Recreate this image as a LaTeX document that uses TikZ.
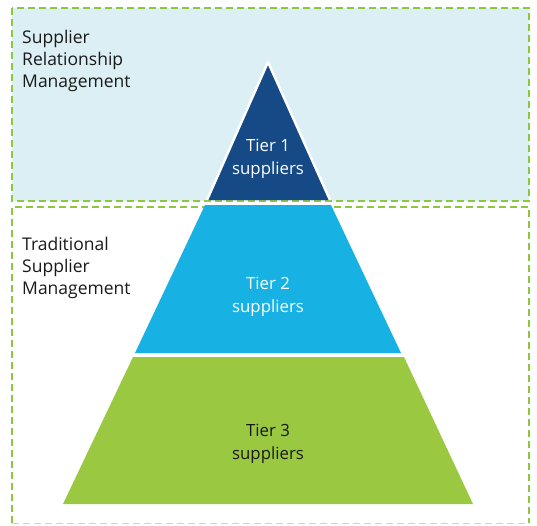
\documentclass[tikz,border=0pt]{standalone}
\usepackage{fontspec}
\setmainfont{Open Sans}
\definecolor{boxfill}{HTML}{DCEFF4}
\definecolor{dashgreen}{HTML}{8DC63F}
\definecolor{tierone}{HTML}{154A87}
\definecolor{tiertwo}{HTML}{17B2E3}
\definecolor{tierthree}{HTML}{9AC840}
\definecolor{darktext}{HTML}{1A1A1A}
\begin{document}
\begin{tikzpicture}[x=1pt,y=-1pt,
  zonebox/.style={draw=dashgreen,line width=2pt,dash pattern=on 7pt off 4pt},
  lbl/.style={font=\fontsize{17.5}{21.8}\selectfont,align=left,anchor=north west,inner sep=0pt,text=darktext},
  tierlbl/.style={font=\fontsize{16.8}{23}\selectfont,align=center,inner sep=0pt}]
\useasboundingbox (0,0) rectangle (537,525);
% zones
\fill[boxfill] (12,8) rectangle (529,201);
\draw[zonebox] (12,8) rectangle (529,201);
\draw[zonebox] (12,523) -- (12,207) -- (529,207) -- (529,523);
\draw[dashgreen!50,line width=1.2pt,dash pattern=on 7pt off 4pt] (12,523.5) -- (529,523.5);
% pyramid
\fill[tierone] (268,62) -- (330,200) -- (207,200) -- cycle;
\fill[tiertwo] (205,205) -- (331,205) -- (401,353) -- (135,353) -- cycle;
\fill[tierthree] (133,357) -- (404,357) -- (473,504) -- (63,504) -- cycle;
\draw[white,line width=2.5pt] (268,62) -- (207,200);
\draw[white,line width=2.5pt] (268,62) -- (330,200);
% labels
\node[lbl] (srm) at (22,30) {Supplier\\Relationship\\Management};
\node[lbl] (tsm) at (22,237) {Traditional\\Supplier\\Management};
\node[tierlbl,text=white] (t1) at (268,159) {Tier 1\\suppliers};
\node[tierlbl,text=white] (t2) at (268,297) {Tier 2\\suppliers};
\node[tierlbl,text=darktext] (t3) at (268,444) {Tier 3\\suppliers};
\end{tikzpicture}
\end{document}
